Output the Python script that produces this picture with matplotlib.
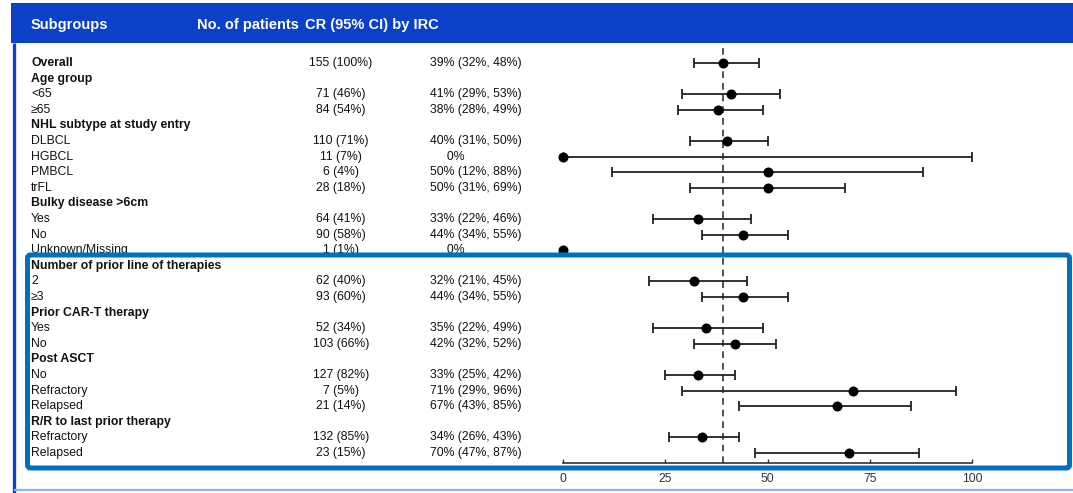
import numpy as np
import matplotlib
matplotlib.use("Agg")
import matplotlib.pyplot as plt
import matplotlib.transforms as mtransforms
from matplotlib.patches import Rectangle, FancyBboxPatch

plt.rcParams['font.family'] = ['Liberation Sans', 'DejaVu Sans']

# table rows (top to bottom)
labels = ["Overall", "Age group", "<65", "≥65", "NHL subtype at study entry",
          "DLBCL", "HGBCL", "PMBCL", "trFL", "Bulky disease >6cm",
          "Yes", "No", "Unknown/Missing", "Number of prior line of therapies",
          "2", "≥3", "Prior CAR-T therapy", "Yes", "No", "Post ASCT",
          "No", "Refractory", "Relapsed", "R/R to last prior therapy",
          "Refractory", "Relapsed"]
is_header = [1, 1, 0, 0, 1, 0, 0, 0, 0, 1, 0, 0, 0, 1, 0, 0, 1, 0, 0, 1,
             0, 0, 0, 1, 0, 0]
n_text = ["155 (100%)", "", "71 (46%)", "84 (54%)", "", "110 (71%)", "11 (7%)",
          "6 (4%)", "28 (18%)", "", "64 (41%)", "90 (58%)", "1 (1%)", "",
          "62 (40%)", "93 (60%)", "", "52 (34%)", "103 (66%)", "",
          "127 (82%)", "7 (5%)", "21 (14%)", "", "132 (85%)", "23 (15%)"]
cr_text = ["39% (32%, 48%)", "", "41% (29%, 53%)", "38% (28%, 49%)", "",
           "40% (31%, 50%)", "     0%", "50% (12%, 88%)", "50% (31%, 69%)", "",
           "33% (22%, 46%)", "44% (34%, 55%)", "     0%", "",
           "32% (21%, 45%)", "44% (34%, 55%)", "", "35% (22%, 49%)",
           "42% (32%, 52%)", "", "33% (25%, 42%)", "71% (29%, 96%)",
           "67% (43%, 85%)", "", "34% (26%, 43%)", "70% (47%, 87%)"]
nan = np.nan
cr = [39, nan, 41, 38, nan, 40, 0, 50, 50, nan, 33, 44, 0, nan, 32, 44, nan,
      35, 42, nan, 33, 71, 67, nan, 34, 70]
lo = [32, nan, 29, 28, nan, 31, 0, 12, 31, nan, 22, 34, nan, nan, 21, 34, nan,
      22, 32, nan, 25, 29, 43, nan, 26, 47]
hi = [48, nan, 53, 49, nan, 50, 100, 88, 69, nan, 46, 55, nan, nan, 45, 55, nan,
      49, 52, nan, 42, 96, 85, nan, 43, 87]
ref_line = 39
xticks = [0, 25, 50, 75, 100]

W, H = 1073, 493
fig = plt.figure(figsize=(W / 100, H / 100), dpi=100)

# background layer in pixel coords
bg = fig.add_axes([0, 0, 1, 1], zorder=0)
bg.set_xlim(0, W)
bg.set_ylim(H, 0)
bg.axis("off")

blue = "#0B41C8"
bg.add_patch(Rectangle((11, 3), W - 11, 40, color=blue, lw=0))
bg.plot([13.5, 13.5], [43, H], color=blue, lw=2.4, solid_capstyle="butt")
bg.plot([15, W], [490, 490], color="#93B1F0", lw=1.6)

bg.text(31, 25, "Subgroups", color="white", fontsize=10.5, fontweight="bold", va="center")
bg.text(197, 25, "No. of patients", color="white", fontsize=10.5, fontweight="bold", va="center")
bg.text(305, 25, "CR (95% CI) by IRC", color="white", fontsize=10.5, fontweight="bold", va="center")

# forest plot axes
y = np.arange(len(labels))
ax = fig.add_axes([563 / W, (H - 463) / H, 409 / W, (463 - 45) / H], zorder=1)
ax.patch.set_alpha(0)
ax.set_xlim(0, 100)
ax.set_ylim(25.64, -1.16)

cr_a, lo_a, hi_a = np.array(cr, float), np.array(lo, float), np.array(hi, float)
has_ci = ~np.isnan(lo_a)
ax.errorbar(cr_a[has_ci], y[has_ci],
            xerr=[cr_a[has_ci] - lo_a[has_ci], hi_a[has_ci] - cr_a[has_ci]],
            fmt="none", ecolor="#222222", elinewidth=1.3, capsize=3.3, capthick=1.3)
pts = ~np.isnan(cr_a)
ax.plot(cr_a[pts], y[pts], "o", color="black", ms=6.2, zorder=3, clip_on=False)
ax.axvline(ref_line, color="#333333", ls=(0, (4, 3)), lw=1.2, zorder=1)

for s in ["top", "left", "right"]:
    ax.spines[s].set_visible(False)
ax.spines["bottom"].set_color("#333333")
ax.spines["bottom"].set_linewidth(1.2)
ax.set_yticks([])
ax.set_xticks(xticks)
ax.tick_params(axis="x", direction="in", length=3, width=1, color="#333333",
               labelsize=8.8, labelcolor="#333333", pad=7.5)

# text columns: x in pixels, y in row units
tr = mtransforms.blended_transform_factory(bg.transData, ax.transData)
for i in range(len(labels)):
    bg.text(31, y[i], labels[i], transform=tr, fontsize=8.8, va="center",
            fontweight="bold" if is_header[i] else "normal", color="#111111")
    if n_text[i]:
        bg.text(341, y[i], n_text[i], transform=tr, fontsize=8.8, va="center",
                ha="center", color="#111111")
    if cr_text[i]:
        bg.text(430, y[i], cr_text[i], transform=tr, fontsize=8.8, va="center",
                color="#111111")

# highlight box on top
top = fig.add_axes([0, 0, 1, 1], zorder=2)
top.set_xlim(0, W)
top.set_ylim(H, 0)
top.axis("off")
top.patch.set_alpha(0)
top.add_patch(FancyBboxPatch((27.5, 255), 1042, 213,
                             boxstyle="round,pad=0,rounding_size=3",
                             fill=False, ec="#0070C0", lw=3.6))

fig.savefig("out.png", dpi=100)
